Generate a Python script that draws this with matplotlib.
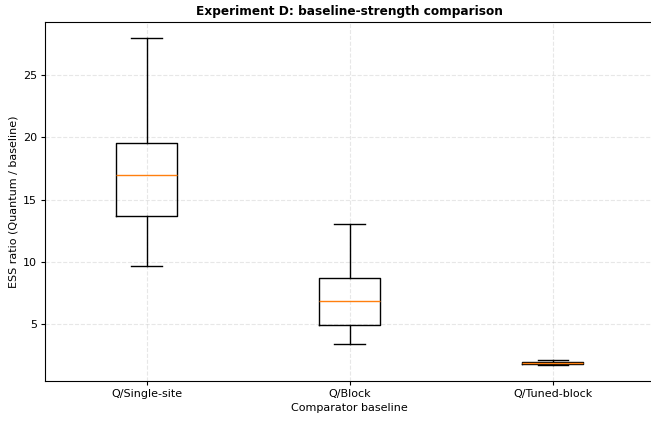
import matplotlib
matplotlib.use("Agg")
import matplotlib.pyplot as plt

# summary stats
labels = ["Q/Single-site", "Q/Block", "Q/Tuned-block"]
whis_lo = [9.65, 3.4, 1.76]
q1 = [13.7, 4.95, 1.8]
median = [17.0, 6.85, 1.86]
q3 = [19.55, 8.75, 2.0]
whis_hi = [27.95, 13.05, 2.14]

stats = []
for i, lab in enumerate(labels):
    stats.append({
        "label": lab,
        "whislo": whis_lo[i],
        "q1": q1[i],
        "med": median[i],
        "q3": q3[i],
        "whishi": whis_hi[i],
        "fliers": [],
    })

plt.rcParams["font.size"] = 8
plt.rcParams["axes.titlesize"] = 8.7

fig = plt.figure(figsize=(6.51, 4.22), dpi=100)
ax = fig.add_axes([0.0691, 0.0972, 0.936, 0.851])
ax.bxp(stats, widths=0.3, showfliers=False)
ax.set_title("Experiment D: baseline-strength comparison", fontweight="bold", pad=4.8)
ax.set_xlabel("Comparator baseline", labelpad=3)
ax.set_ylabel("ESS ratio (Quantum / baseline)", labelpad=3)
ax.tick_params(length=2.8, pad=2.8)
ax.grid(True, alpha=0.3, linestyle="--")

fig.savefig("out.png", dpi=100)
